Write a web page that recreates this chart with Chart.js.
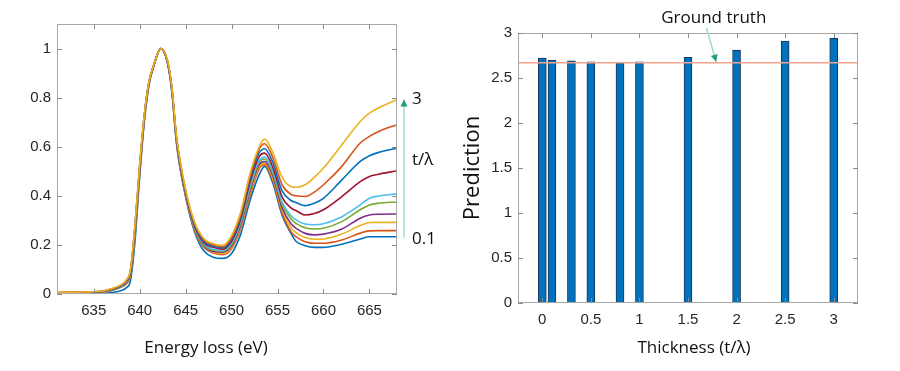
<!DOCTYPE html>
<html>
<head>
<meta charset="utf-8">
<script src="https://cdn.jsdelivr.net/npm/chart.js@4.4.0/dist/chart.umd.min.js"></script>
<style>
  html, body { margin: 0; padding: 0; background: #fff; }
  #wrap { position: relative; width: 900px; height: 371px; }
  .pane { position: absolute; top: 0; width: 450px; height: 371px; }
</style>
</head>
<body>
<div id="wrap">
  <div class="pane" style="left:0"><canvas id="spec" width="450" height="371"></canvas></div>
  <div class="pane" style="left:450px"><canvas id="pred" width="450" height="371"></canvas></div>
</div>
<script>
// ---- left panel: spectra ----
const energyLoss = [631, 634, 636, 637, 638, 638.5, 639, 639.5, 640, 640.5, 641, 641.5, 642.3, 643, 643.5, 644, 645, 646, 647, 648, 649, 650, 651, 652, 653, 653.6, 654.5, 655.5, 656.5, 657, 658, 659, 660, 662, 664, 665, 666, 668];
const energyTicks = [635, 640, 645, 650, 655, 660, 665];
const intensityTicks = [0, 0.2, 0.4, 0.6, 0.8, 1];

// one array per spectrum, thinnest (bottom) first
const spec01 = [0.000, 0.000, 0.002, 0.006, 0.014, 0.024, 0.055, 0.22, 0.48, 0.70, 0.85, 0.925, 1.0, 0.945, 0.825, 0.615, 0.395, 0.25, 0.175, 0.150, 0.145, 0.165, 0.245, 0.38, 0.485, 0.52,
                0.450, 0.320, 0.245, 0.215, 0.197, 0.190, 0.190, 0.203, 0.224, 0.233, 0.233, 0.233];
const spec02 = [0.002, 0.004, 0.008, 0.014, 0.028, 0.040, 0.077, 0.25, 0.49, 0.708, 0.853, 0.926, 1.0, 0.946, 0.828, 0.62, 0.40, 0.256, 0.19, 0.167, 0.16, 0.184, 0.268, 0.40, 0.51, 0.527,
                0.460, 0.330, 0.252, 0.234, 0.213, 0.207, 0.207, 0.220, 0.248, 0.257, 0.258, 0.258];
const spec03 = [0.003, 0.005, 0.009, 0.015, 0.029, 0.042, 0.080, 0.255, 0.495, 0.711, 0.854, 0.927, 1.0, 0.947, 0.829, 0.622, 0.402, 0.259, 0.193, 0.171, 0.165, 0.19, 0.275, 0.41, 0.52, 0.533,
                0.470, 0.340, 0.268, 0.250, 0.230, 0.223, 0.224, 0.244, 0.279, 0.291, 0.292, 0.292];
const spec05 = [0.003, 0.005, 0.009, 0.016, 0.030, 0.044, 0.084, 0.26, 0.50, 0.714, 0.855, 0.927, 1.0, 0.947, 0.83, 0.624, 0.404, 0.262, 0.196, 0.174, 0.17, 0.196, 0.282, 0.42, 0.528, 0.54,
                0.480, 0.350, 0.285, 0.268, 0.247, 0.241, 0.244, 0.265, 0.309, 0.322, 0.325, 0.326];
const spec08 = [0.004, 0.006, 0.010, 0.017, 0.031, 0.046, 0.087, 0.265, 0.505, 0.717, 0.857, 0.928, 1.0, 0.948, 0.832, 0.627, 0.407, 0.266, 0.20, 0.178, 0.175, 0.202, 0.29, 0.43, 0.537, 0.55,
                0.490, 0.365, 0.305, 0.288, 0.270, 0.265, 0.268, 0.295, 0.343, 0.363, 0.370, 0.375];
const spec10 = [0.004, 0.006, 0.010, 0.018, 0.032, 0.048, 0.090, 0.27, 0.51, 0.72, 0.858, 0.928, 1.0, 0.949, 0.834, 0.63, 0.41, 0.27, 0.203, 0.182, 0.178, 0.207, 0.295, 0.44, 0.545, 0.558,
                0.500, 0.375, 0.318, 0.302, 0.285, 0.282, 0.286, 0.315, 0.363, 0.390, 0.399, 0.408];
const spec15 = [0.005, 0.007, 0.011, 0.019, 0.034, 0.050, 0.092, 0.275, 0.515, 0.722, 0.86, 0.929, 1.0, 0.95, 0.836, 0.633, 0.413, 0.275, 0.208, 0.19, 0.183, 0.215, 0.305, 0.455, 0.56, 0.574,
                0.515, 0.395, 0.350, 0.340, 0.322, 0.328, 0.343, 0.397, 0.458, 0.479, 0.488, 0.502];
const spec20 = [0.005, 0.007, 0.011, 0.020, 0.035, 0.052, 0.095, 0.28, 0.52, 0.725, 0.862, 0.929, 1.0, 0.951, 0.839, 0.637, 0.417, 0.28, 0.214, 0.195, 0.188, 0.222, 0.315, 0.47, 0.575, 0.592,
                0.535, 0.420, 0.380, 0.373, 0.360, 0.370, 0.390, 0.465, 0.540, 0.563, 0.577, 0.594];
const spec25 = [0.006, 0.008, 0.012, 0.021, 0.037, 0.054, 0.098, 0.285, 0.525, 0.728, 0.864, 0.93, 1.0, 0.953, 0.842, 0.641, 0.421, 0.285, 0.22, 0.20, 0.193, 0.23, 0.325, 0.48, 0.59, 0.612,
                0.555, 0.445, 0.405, 0.400, 0.397, 0.415, 0.445, 0.520, 0.615, 0.642, 0.662, 0.690];
const spec30 = [0.006, 0.008, 0.012, 0.022, 0.038, 0.055, 0.100, 0.29, 0.53, 0.73, 0.865, 0.93, 1.0, 0.955, 0.845, 0.645, 0.425, 0.29, 0.225, 0.205, 0.198, 0.238, 0.335, 0.49, 0.60, 0.631,
                0.575, 0.475, 0.437, 0.435, 0.445, 0.475, 0.513, 0.608, 0.703, 0.737, 0.758, 0.792];

const spectra = [spec01, spec02, spec03, spec05, spec08, spec10, spec15, spec20, spec25, spec30];
const spectraLabels = ['0.1', '0.2', '0.3', '0.5', '0.8', '1', '1.5', '2', '2.5', '3'];
const matlabColors = ['#0072BD', '#D95319', '#EDB120', '#7E2F8E', '#77AC30', '#4DBEEE', '#A2142F', '#0072BD', '#D95319', '#EDB120'];

// ---- right panel: predictions ----
const thickness = [0, 0.1, 0.3, 0.5, 0.8, 1, 1.5, 2, 2.5, 3];
const prediction = [2.72, 2.70, 2.69, 2.68, 2.67, 2.68, 2.73, 2.81, 2.91, 2.94];
const groundTruth = 2.67;
const thicknessRange = [-0.25, 3.25];
const thicknessTicks = [0, 0.5, 1, 1.5, 2, 2.5, 3];
const predictionTicks = [0, 0.5, 1, 1.5, 2, 2.5, 3];

const tickFont = { family: '"Liberation Sans", Arial, sans-serif', size: 15 };
const tickColor = '#262626';
const labelFont = '17px "Open Sans", sans-serif';

// MATLAB-like box with inward tick marks
const frame = {
  id: 'frame',
  afterDraw(chart) {
    const { ctx, chartArea: a, scales: { x, y } } = chart;
    ctx.save();
    ctx.strokeStyle = '#a8a8a8';
    ctx.lineWidth = 1;
    ctx.strokeRect(a.left + 0.5, a.top + 0.5, a.right - a.left - 1, a.bottom - a.top - 1);
    ctx.strokeStyle = '#8a8a8a';
    ctx.beginPath();
    x.ticks.forEach(t => {
      const px = Math.round(x.getPixelForValue(t.value)) + 0.5;
      ctx.moveTo(px, a.bottom); ctx.lineTo(px, a.bottom - 5);
      ctx.moveTo(px, a.top); ctx.lineTo(px, a.top + 5);
    });
    y.ticks.forEach(t => {
      const py = Math.round(y.getPixelForValue(t.value)) + 0.5;
      ctx.moveTo(a.left, py); ctx.lineTo(a.left + 5, py);
      ctx.moveTo(a.right, py); ctx.lineTo(a.right - 5, py);
    });
    ctx.stroke();
    ctx.restore();
  }
};

function arrow(ctx, x1, y1, x2, y2) {
  ctx.save();
  ctx.strokeStyle = '#9fdcc9';
  ctx.lineWidth = 1.5;
  ctx.beginPath(); ctx.moveTo(x1, y1); ctx.lineTo(x2, y2); ctx.stroke();
  const ang = Math.atan2(y2 - y1, x2 - x1);
  ctx.fillStyle = '#1f9e78';
  ctx.beginPath();
  ctx.moveTo(x2, y2);
  ctx.lineTo(x2 - 7 * Math.cos(ang) + 3.5 * Math.sin(ang), y2 - 7 * Math.sin(ang) - 3.5 * Math.cos(ang));
  ctx.lineTo(x2 - 7 * Math.cos(ang) - 3.5 * Math.sin(ang), y2 - 7 * Math.sin(ang) + 3.5 * Math.cos(ang));
  ctx.closePath(); ctx.fill();
  ctx.restore();
}

function label(ctx, text, x, y, align) {
  ctx.save();
  ctx.font = labelFont;
  ctx.fillStyle = '#111';
  ctx.textAlign = align || 'center';
  ctx.textBaseline = 'middle';
  ctx.fillText(text, x, y);
  ctx.restore();
}

const specNotes = {
  id: 'specNotes',
  afterDraw(chart) {
    const { ctx, chartArea: a, scales: { y } } = chart;
    const last = energyLoss.length - 1;
    const yLow = y.getPixelForValue(spec01[last]);
    const yHigh = y.getPixelForValue(spec30[last]);
    arrow(ctx, a.right + 7, yLow + 1, a.right + 7, yHigh);
    label(ctx, '3', a.right + 15, yHigh, 'left');
    label(ctx, 't/λ', a.right + 15, y.getPixelForValue(0.547), 'left');
    label(ctx, '0.1', a.right + 15, yLow + 2, 'left');
    // x-axis title sits left of the plot centre in the source figure
    label(ctx, 'Energy loss (eV)', a.left + 149, 348);
  }
};

const predNotes = {
  id: 'predNotes',
  afterDraw(chart) {
    const { ctx, chartArea: a, scales: { x, y } } = chart;
    const tipX = x.getPixelForValue(1.79), tipY = y.getPixelForValue(groundTruth) - 1;
    arrow(ctx, x.getPixelForValue(1.69), 28, tipX, tipY);
    label(ctx, 'Ground truth', x.getPixelForValue(1.765), 18);
    label(ctx, 'Thickness (t/λ)', a.left + 176, 348);
  }
};

new Chart(document.getElementById('spec'), {
  type: 'line',
  data: {
    datasets: spectra.map((s, i) => ({
      label: spectraLabels[i],
      data: energyLoss.map((e, k) => ({ x: e, y: s[k] })),
      borderColor: matlabColors[i],
      borderWidth: 1.6,
      pointRadius: 0,
      cubicInterpolationMode: 'monotone',
      order: spectra.length - 1 - i
    }))
  },
  options: {
    responsive: false,
    animation: false,
    layout: { padding: { top: 24, right: 53, left: 0, bottom: 0 } },
    plugins: { legend: { display: false }, tooltip: { enabled: false } },
    scales: {
      x: {
        type: 'linear', min: 631, max: 668,
        afterBuildTicks: s => { s.ticks = energyTicks.map(v => ({ value: v })); },
        afterFit: s => { s.height = 77; },
        grid: { display: false, drawTicks: false }, border: { display: false },
        ticks: { font: tickFont, color: tickColor, padding: 8, maxRotation: 0, callback: v => String(v) }
      },
      y: {
        min: 0, max: 1.1,
        afterBuildTicks: s => { s.ticks = intensityTicks.map(v => ({ value: v })); },
        afterFit: s => { s.width = 57; },
        grid: { display: false, drawTicks: false }, border: { display: false },
        ticks: { font: tickFont, color: tickColor, padding: 6, callback: v => String(v) }
      }
    }
  },
  plugins: [frame, specNotes]
});

new Chart(document.getElementById('pred'), {
  type: 'bar',
  data: {
    datasets: [
      {
        type: 'line',
        label: 'Ground truth',
        data: thicknessRange.map(t => ({ x: t, y: groundTruth })),
        borderColor: '#f3a48a',
        borderWidth: 1.5,
        pointRadius: 0,
        order: 0
      },
      {
        type: 'bar',
        label: 'Prediction',
        data: thickness.map((t, i) => ({ x: t, y: prediction[i] })),
        backgroundColor: '#0072BD',
        borderColor: '#1d3550',
        borderWidth: 1,
        barThickness: 8,
        order: 1
      }
    ]
  },
  options: {
    responsive: false,
    animation: false,
    layout: { padding: { top: 33, right: 42, left: 0, bottom: 0 } },
    plugins: { legend: { display: false }, tooltip: { enabled: false } },
    scales: {
      x: {
        type: 'linear', min: thicknessRange[0], max: thicknessRange[1], offset: false,
        afterBuildTicks: s => { s.ticks = thicknessTicks.map(v => ({ value: v })); },
        afterFit: s => { s.height = 68; },
        grid: { display: false, drawTicks: false }, border: { display: false },
        ticks: { font: tickFont, color: tickColor, padding: 8, maxRotation: 0, callback: v => String(v) }
      },
      y: {
        min: 0, max: 3,
        afterBuildTicks: s => { s.ticks = predictionTicks.map(v => ({ value: v })); },
        afterFit: s => { s.width = 68; },
        grid: { display: false, drawTicks: false }, border: { display: false },
        ticks: { font: tickFont, color: tickColor, padding: 6, callback: v => String(v) },
        title: { display: true, text: 'Prediction', font: { family: '"Open Sans", sans-serif', size: 22 }, color: '#111', padding: { top: 10, bottom: 0 } }
      }
    }
  },
  plugins: [frame, predNotes]
});
</script>
</body>
</html>
